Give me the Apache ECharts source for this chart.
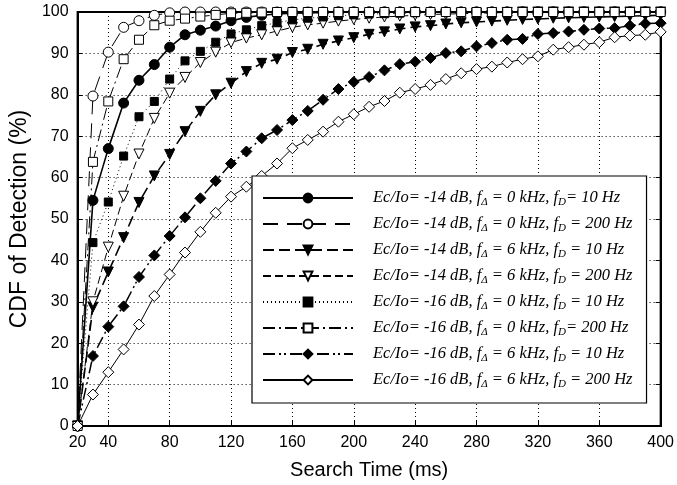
<!DOCTYPE html>
<html>
<head>
<meta charset="utf-8">
<script src="https://cdn.jsdelivr.net/npm/echarts@6/dist/echarts.min.js"></script>
<style>
  html, body { margin: 0; padding: 0; background: #fff; }
  #graph { width: 677px; height: 485px; }
</style>
</head>
<body>
<div id="graph"></div>
<script>
// search time samples (ms)
var times = [20, 30, 40, 50, 60, 70, 80, 90, 100, 110, 120, 130, 140, 150, 160, 170, 180, 190, 200,
             210, 220, 230, 240, 250, 260, 270, 280, 290, 300, 310, 320, 330, 340, 350, 360, 370, 380, 390, 400];

var xTicks = [20, 40, 80, 120, 160, 200, 240, 280, 320, 360, 400];

// CDF of detection (%) for each case
var cdf14_0_10 = [0, 54.5, 67, 78, 83.5, 87.3, 91.5, 94.5, 95.6, 96.6, 97.9, 98.7, 99.2, 99.5, 99.7, 99.8, 99.9, 100, 100,
                  100, 100, 100, 100, 100, 100, 100, 100, 100, 100, 100, 100, 100, 100, 100, 100, 100, 100, 100, 100];
var cdf14_0_200 = [0, 79.7, 90.3, 96.3, 97.9, 99.2, 99.8, 100, 100, 100, 100, 100, 100, 100, 100, 100, 100, 100, 100,
                   100, 100, 100, 100, 100, 100, 100, 100, 100, 100, 100, 100, 100, 100, 100, 100, 100, 100, 100, 100];
var cdf14_6_10 = [0, 28.7, 37.2, 45.5, 54, 60.4, 65.6, 71.1, 76, 80, 82.8, 85.6, 87.6, 88.6, 90.2, 91, 92.2, 93, 93.8,
                  94.6, 95.2, 95.9, 96.4, 96.7, 97.1, 97.4, 97.6, 97.8, 98, 98.2, 98.3, 98.5, 98.6, 98.7, 98.8, 98.9, 99, 99.1, 99.2];
var cdf14_6_200 = [0, 30, 43.2, 55.5, 65.7, 74.3, 80.4, 84.2, 87.8, 90.3, 92.6, 93.7, 94.5, 95.4, 96.3, 96.9, 97.3, 97.8, 98.2,
                   98.5, 98.8, 99, 99.2, 99.4, 99.5, 99.6, 99.7, 99.8, 99.9, 100, 100, 100, 100, 100, 100, 100, 100, 100, 100];
var cdf16_0_10 = [0, 44.3, 54.1, 65.2, 74.7, 78.4, 83.8, 88.2, 90.5, 92.7, 94.7, 95.7, 96.7, 97.4, 98.1, 98.5, 98.8, 99.1, 99.3,
                  99.5, 99.6, 99.7, 99.8, 99.9, 100, 100, 100, 100, 100, 100, 100, 100, 100, 100, 100, 100, 100, 100, 100];
var cdf16_0_200 = [0, 63.8, 78.4, 88.6, 93.3, 96.8, 97.9, 98.4, 98.9, 99.3, 99.7, 99.8, 99.9, 100, 100, 100, 100, 100, 100,
                   100, 100, 100, 100, 100, 100, 100, 100, 100, 100, 100, 100, 100, 100, 100, 100, 100, 100, 100, 100];
var cdf16_6_10 = [0, 16.9, 24, 28.9, 36, 41.2, 45.9, 50.4, 55, 59.2, 63.4, 66.3, 69.5, 71.5, 73.9, 76.1, 78.8, 81.4, 83.1,
                  84.3, 85.9, 87.4, 88, 88.9, 90.1, 90.5, 91.7, 92.5, 93.3, 93.5, 94.7, 94.9, 95.3, 95.7, 96, 96.1, 96.7, 97.2, 97.3];
var cdf16_6_200 = [0, 7.6, 13, 18.5, 24.5, 31.4, 36.6, 41.9, 46.9, 51.5, 55.4, 57.8, 60.4, 63.4, 67.1, 69.1, 71.1, 73.5, 75.3,
                   77.1, 78.5, 80.5, 81.4, 82.4, 83.8, 85.2, 86.2, 86.8, 87.8, 88.6, 89.3, 90.9, 91.5, 92.1, 92.7, 93.9, 94.3, 94.5, 95.2];

var names = [
    'Ec/Io= -14 dB, {i|f}{s|Δ} = 0 kHz, {i|f}{s|D}= 10 Hz',
    'Ec/Io= -14 dB, {i|f}{s|Δ} = 0 kHz, {i|f}{s|D} = 200 Hz',
    'Ec/Io= -14 dB, {i|f}{s|Δ} = 6 kHz, {i|f}{s|D} = 10 Hz',
    'Ec/Io= -14 dB, {i|f}{s|Δ} = 6 kHz, {i|f}{s|D} = 200 Hz',
    'Ec/Io= -16 dB, {i|f}{s|Δ} = 0 kHz, {i|f}{s|D} = 10 Hz',
    'Ec/Io= -16 dB, {i|f}{s|Δ} = 0 kHz, {i|f}{s|D}= 200 Hz',
    'Ec/Io= -16 dB, {i|f}{s|Δ} = 6 kHz, {i|f}{s|D} = 10 Hz',
    'Ec/Io= -16 dB, {i|f}{s|Δ} = 6 kHz, {i|f}{s|D} = 200 Hz'
];
var values = [cdf14_0_10, cdf14_0_200, cdf14_6_10, cdf14_6_200, cdf16_0_10, cdf16_0_200, cdf16_6_10, cdf16_6_200];

// look of each curve
var looks = [
    { symbol: 'circle', size: 10, filled: true, width: 1.6, dash: 'solid' },
    { symbol: 'circle', size: 10, filled: false, width: 1, dash: [15, 9] },
    { symbol: 'triangle', size: 10, filled: true, width: 1.6, dash: [11, 5] },
    { symbol: 'triangle', size: 10, filled: false, width: 1, dash: [8, 4] },
    { symbol: 'rect', size: 8, filled: true, width: 1, dash: [1, 3] },
    { symbol: 'rect', size: 9, filled: false, width: 1, dash: [12, 4, 2, 4] },
    { symbol: 'diamond', size: 11, filled: true, width: 1.5, dash: [12, 4, 2, 3, 2, 4] },
    { symbol: 'diamond', size: 11, filled: false, width: 1, dash: 'solid' }
];

var dom = document.getElementById('graph');
var chart = echarts.init(dom);

var series = names.map(function (name, k) {
    var look = looks[k];
    return {
        name: name,
        type: 'line',
        symbol: look.symbol,
        symbolSize: look.size,
        symbolRotate: look.symbol === 'triangle' ? 180 : 0,
        showAllSymbol: true,
        animation: false,
        lineStyle: { color: '#000', width: look.width, type: look.dash },
        itemStyle: {
            color: look.filled ? '#000' : '#fff',
            borderColor: '#000',
            borderWidth: 1
        },
        data: times.map(function (t, i) { return [t, values[k][i]]; })
    };
});

var serif = '"Liberation Serif", "DejaVu Serif", serif';
var sans = '"Liberation Sans", Arial, sans-serif';

chart.setOption({
    backgroundColor: '#fff',
    animation: false,
    grid: {
        left: 75, right: 10, top: 12, bottom: 59,
        show: true, borderColor: '#000', borderWidth: 2
    },
    legend: {
        orient: 'vertical',
        left: 252, top: 176,
        padding: [12, 14, 13, 10],
        itemWidth: 90, itemHeight: 11, itemGap: 6,
        backgroundColor: '#fff',
        borderColor: '#000', borderWidth: 1.2,
        data: names,
        textStyle: {
            fontFamily: serif, fontStyle: 'italic', fontSize: 16.5, color: '#000',
            lineHeight: 20, padding: [0, 0, 0, 15],
            rich: {
                i: { fontFamily: serif, fontStyle: 'italic', fontSize: 16.5, color: '#000', lineHeight: 20 },
                s: { fontFamily: serif, fontStyle: 'italic', fontSize: 11, color: '#000', verticalAlign: 'bottom', lineHeight: 12 }
            }
        }
    },
    xAxis: {
        type: 'value', min: 20, max: 400,
        name: 'Search Time (ms)', nameLocation: 'middle', nameGap: 34,
        nameTextStyle: { fontFamily: sans, fontSize: 20, color: '#000' },
        axisLine: { lineStyle: { color: '#000', width: 2 } },
        axisTick: { inside: true, length: 5, customValues: xTicks, lineStyle: { color: '#000' } },
        axisLabel: { customValues: xTicks, fontFamily: sans, fontSize: 16, color: '#000', margin: 9 },
        splitLine: { show: true, lineStyle: { color: '#000', type: [1, 3], width: 1 } }
    },
    yAxis: [{
        type: 'value', min: 0, max: 100, interval: 10,
        name: 'CDF of Detection (%)', nameLocation: 'middle', nameGap: 44,
        nameTextStyle: { fontFamily: sans, fontSize: 23, color: '#000' },
        axisLine: { show: true, lineStyle: { color: '#000', width: 2 } },
        axisTick: { show: true, inside: true, length: 5, lineStyle: { color: '#000' } },
        axisLabel: { fontFamily: sans, fontSize: 16, color: '#000', margin: 9 },
        splitLine: { show: true, lineStyle: { color: '#000', type: [1, 3], width: 1 } }
    }, {
        type: 'value', min: 0, max: 100, interval: 10, position: 'right',
        axisLine: { show: true, lineStyle: { color: '#000', width: 2 } },
        axisTick: { show: true, inside: true, length: 5, lineStyle: { color: '#000' } },
        axisLabel: { show: false },
        splitLine: { show: false }
    }],
    series: series
});
</script>
</body>
</html>
